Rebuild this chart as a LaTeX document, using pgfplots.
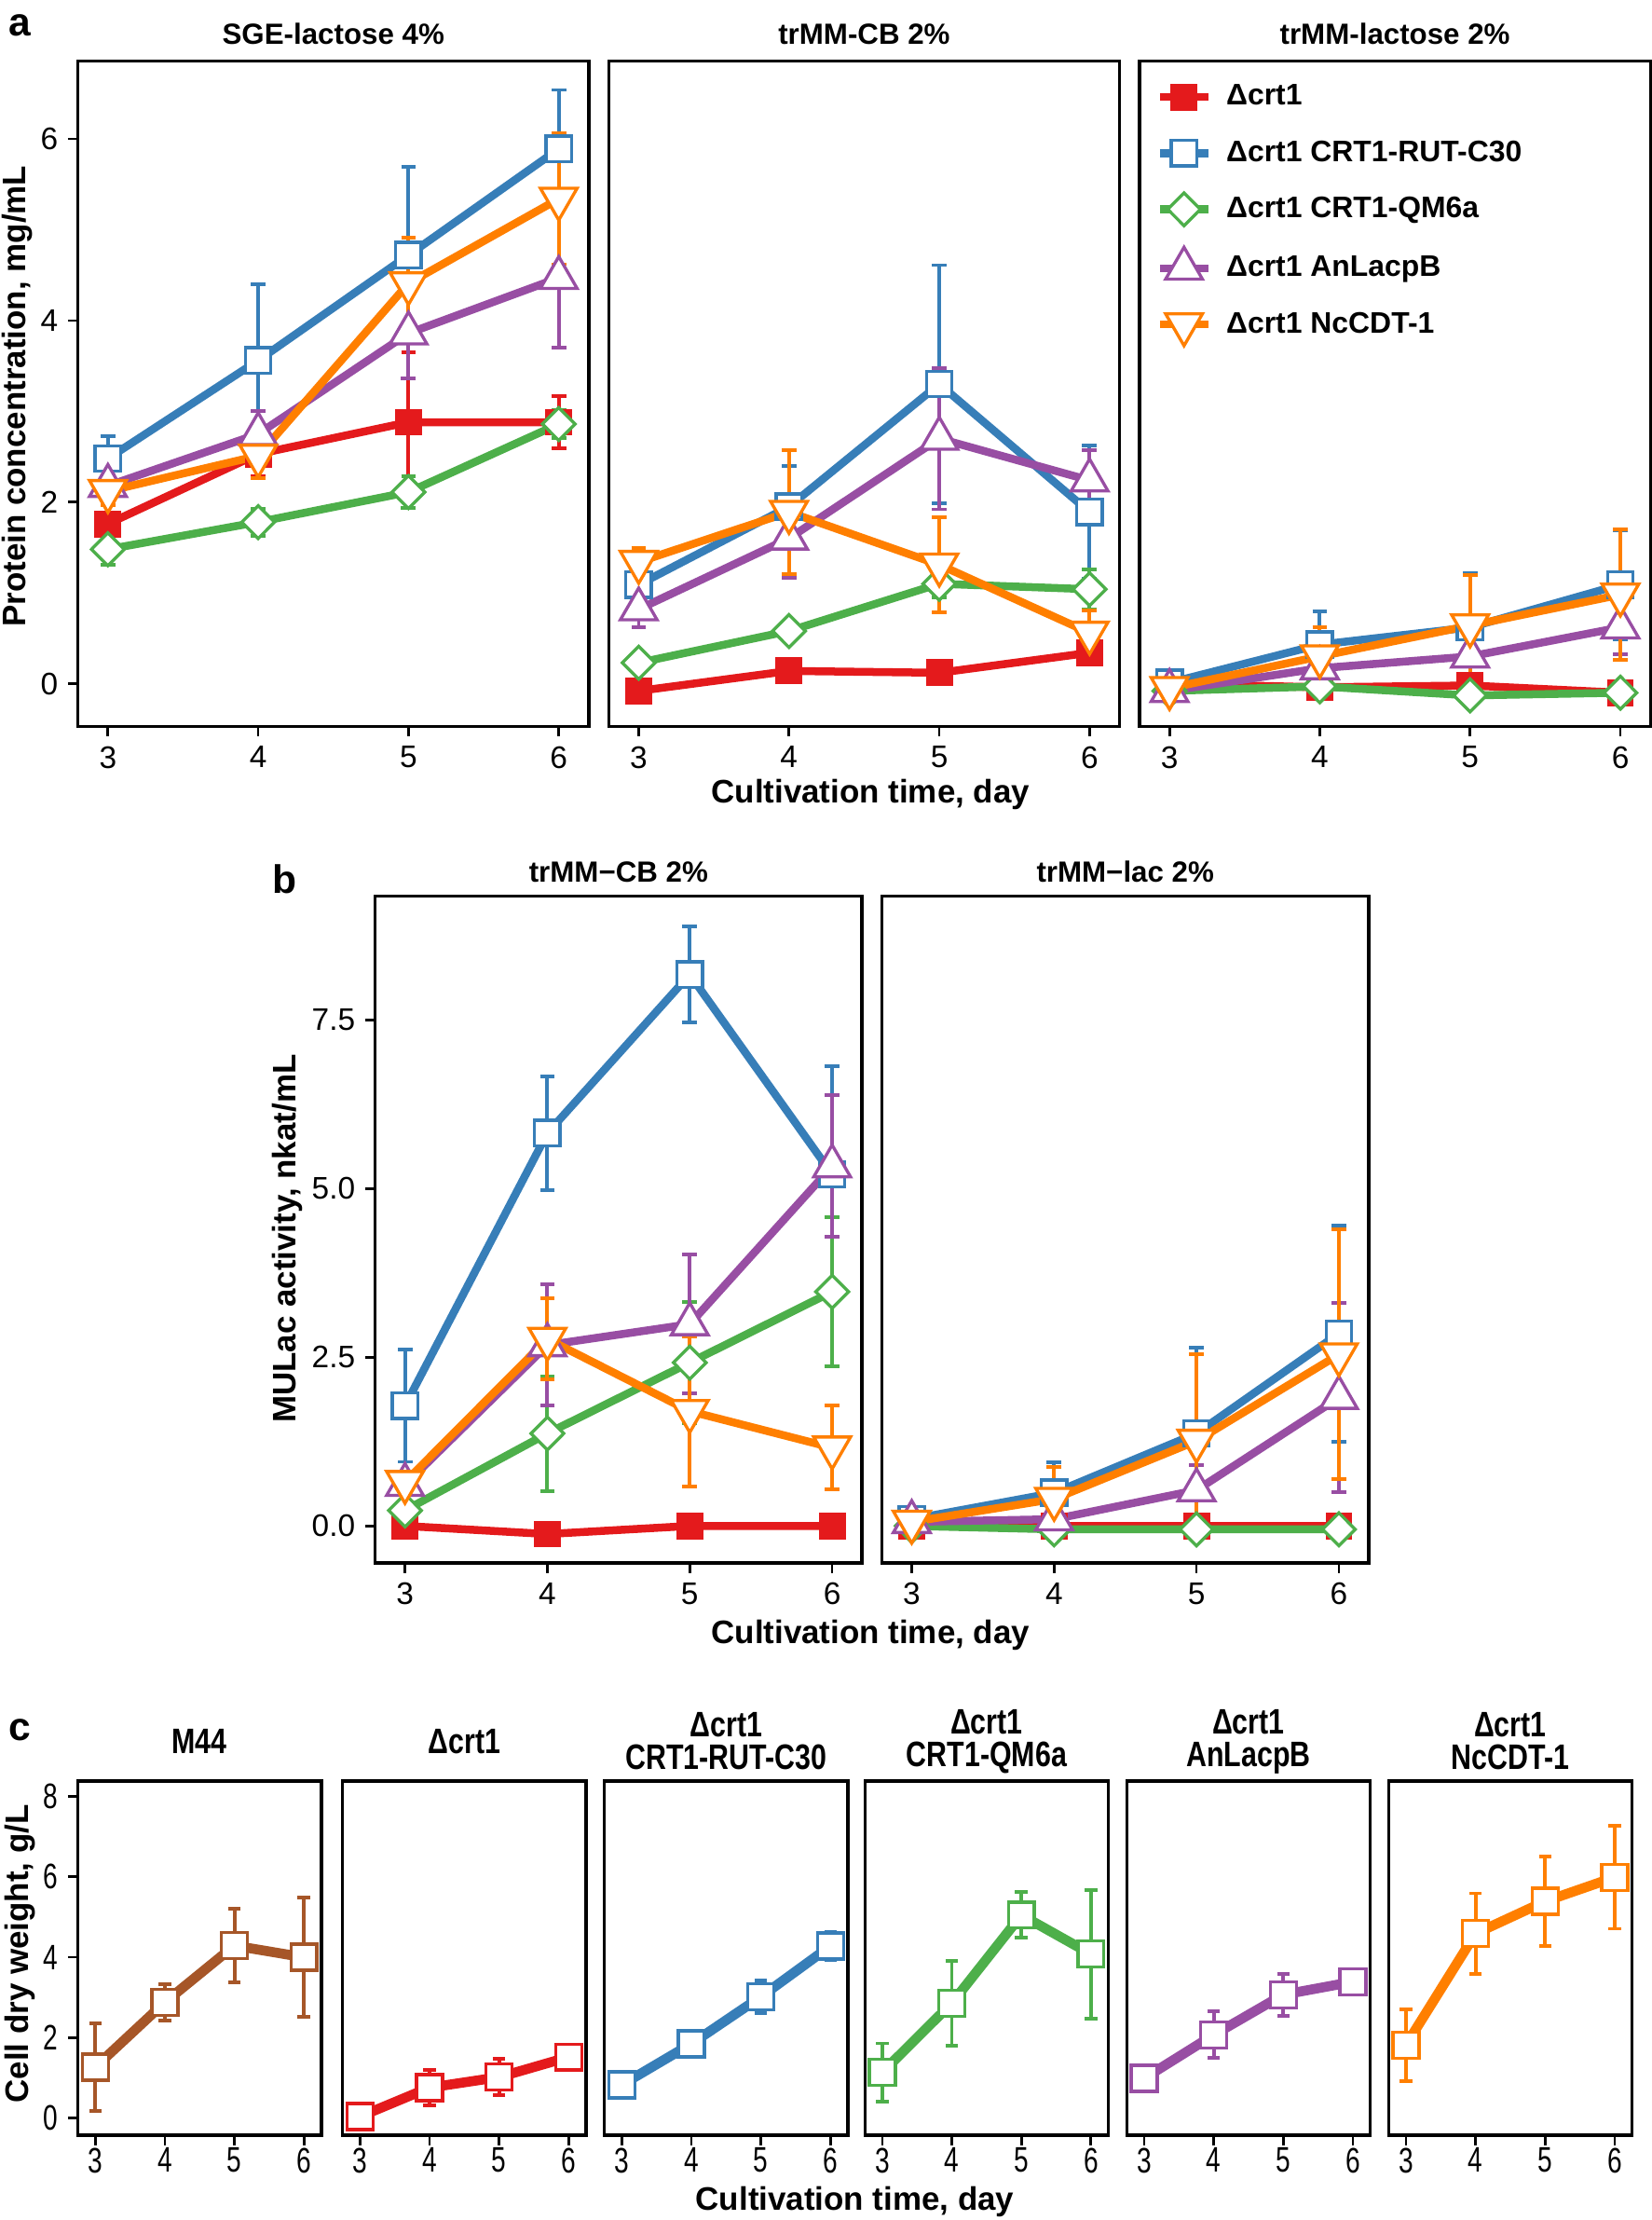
\documentclass[border=0pt]{standalone}
\usepackage{fontspec}
\setmainfont{Liberation Sans}
\usepackage{graphicx}
\usepackage{pgfplots}
\pgfplotsset{compat=1.18}
\usepackage{pgfplotstable}

\definecolor{cR}{HTML}{E41A1C}
\definecolor{cB}{HTML}{377EB8}
\definecolor{cG}{HTML}{4DAF4A}
\definecolor{cP}{HTML}{984EA3}
\definecolor{cO}{HTML}{FF7F00}
\definecolor{cBr}{HTML}{A65628}

% Panel a: protein concentration
\pgfplotstableread{
x R Re B Be G Ge P Pe O Oe
3 1.76 0.12 2.48 0.25 1.48 0.17 2.18 0.12 2.12 0.15
4 2.53 0.25 3.56 0.84 1.78 0.15 2.75 0.25 2.51 0.25
5 2.88 0.77 4.72 0.97 2.11 0.17 3.86 0.50 4.41 0.50
6 2.88 0.29 5.89 0.65 2.86 0.15 4.47 0.77 5.34 0.72
}\tabAa
\pgfplotstableread{
x R Re B Be G Ge P Pe O Oe
3 -0.08 0.04 1.09 0.10 0.23 0.05 0.82 0.20 1.34 0.15
4 0.14 0.05 1.95 0.45 0.58 0.05 1.60 0.43 1.89 0.68
5 0.12 0.05 3.30 1.31 1.10 0.15 2.70 0.78 1.31 0.52
6 0.34 0.05 1.89 0.73 1.04 0.22 2.24 0.33 0.56 0.25
}\tabAb
\pgfplotstableread{
x R Re B Be G Ge P Pe O Oe
3 0.00 0.05 0.01 0.05 -0.08 0.03 -0.08 0.03 -0.05 0.05
4 -0.04 0.05 0.43 0.37 -0.03 0.04 0.17 0.05 0.30 0.32
5 -0.02 0.05 0.62 0.60 -0.13 0.04 0.30 0.10 0.64 0.56
6 -0.10 0.04 1.09 0.60 -0.10 0.04 0.62 0.30 0.98 0.72
}\tabAc
% Panel b: MULac activity
\pgfplotstableread{
x R Re B Be G Ge P Pe O Oe
3 0.00 0.03 1.78 0.83 0.23 0.05 0.61 0.08 0.65 0.08
4 -0.12 0.03 5.82 0.84 1.37 0.85 2.68 0.90 2.77 0.60
5 0.00 0.03 8.17 0.71 2.42 0.90 2.99 1.03 1.70 1.11
6 0.00 0.03 5.21 1.60 3.47 1.10 5.33 1.05 1.16 0.62
}\tabBa
\pgfplotstableread{
x R Re B Be G Ge P Pe O Oe
3 0.00 0.03 0.10 0.05 0.00 0.03 0.06 0.05 0.06 0.05
4 0.00 0.03 0.49 0.45 -0.05 0.03 0.10 0.05 0.40 0.48
5 0.00 0.03 1.37 1.27 -0.05 0.03 0.53 0.37 1.26 1.28
6 0.00 0.03 2.85 1.60 -0.05 0.03 1.90 1.40 2.54 1.85
}\tabBb
% Panel c: cell dry weight
\pgfplotstableread{
x M Me R Re B Be G Ge P Pe O Oe
3 1.27 1.08 0.04 0.05 0.83 0.10 1.14 0.72 0.99 0.15 1.82 0.89
4 2.88 0.45 0.76 0.45 1.85 0.30 2.86 1.05 2.07 0.58 4.59 1.00
5 4.29 0.92 1.02 0.45 3.02 0.40 5.05 0.57 3.07 0.52 5.39 1.11
6 4.00 1.49 1.52 0.08 4.28 0.35 4.08 1.60 3.39 0.08 5.99 1.28
}\tabC

\newcommand{\nar}[1]{\scalebox{0.74}[1]{#1}}
\newcommand{\tnar}[1]{\scalebox{0.8}[1]{#1}}

\pgfplotsset{
 base/.style={scale only axis, xmin=2.8, xmax=6.2, xtick={3,4,5,6}, xticklabels={3,4,5,6},
   axis line style={line width=1.1pt}, tick align=outside, tick pos=left,
   major tick length=3.5pt, tick style={line width=0.9pt, black},
   ticklabel style={font=\fontsize{11}{12}\selectfont},
   title style={font=\bfseries\fontsize{10.3}{12}\selectfont, at={(0.5,1)}, anchor=center},
   /pgf/number format/assume math mode=true},
 errp/.style={forget plot, color=#1, line width=1pt, mark=none,
   error bars/.cd, y dir=both, y explicit,
   error bar style={line width=1.3pt, color=#1},
   error mark options={rotate=90, mark size=2.6pt, line width=1.3pt, color=#1}},
 ln/.style={color=#1, line width=2.8pt, mark size=4.5pt,
   mark options={solid, line width=1.1pt, fill=white}},
 cerr/.style={forget plot, color=#1, line width=1pt, mark=none,
   error bars/.cd, y dir=both, y explicit,
   error bar style={line width=1.3pt, color=#1},
   error mark options={rotate=90, mark size=2.2pt, line width=1.3pt, color=#1}},
 cln/.style={color=#1, line width=3.5pt, mark=square*, mark size=4.6pt,
   mark options={solid, line width=1.1pt, fill=white}},
 aax/.style={base, ymin=-0.47, ymax=6.86, width=180.5pt, height=235pt, ytick=\empty,
   title style={yshift=3.5pt}},
 bax/.style={base, xmin=2.79, xmax=6.21, ymin=-0.55, ymax=9.33, width=172pt, height=235.5pt, ytick=\empty,
   title style={yshift=2.5pt}},
 cax/.style={base, xmin=2.75, xmax=6.25, ymin=-0.42, ymax=8.38, width=86pt, height=125pt, ytick=\empty,
   xticklabels={\nar{3},\nar{4},\nar{5},\nar{6}},
   ticklabel style={font=\fontsize{12.5}{13}\selectfont},
   xticklabel style={yshift=2.5pt},
   title style={font=\bfseries\fontsize{12.5}{11.5}\selectfont, align=center, yshift=8pt}},
}

\newcommand{\fiveseries}[1]{%
 \addplot[errp=cR] table[x=x,y=R,y error=Re]{#1};
 \addplot[errp=cB] table[x=x,y=B,y error=Be]{#1};
 \addplot[errp=cG] table[x=x,y=G,y error=Ge]{#1};
 \addplot[errp=cP] table[x=x,y=P,y error=Pe]{#1};
 \addplot[errp=cO] table[x=x,y=O,y error=Oe]{#1};
 \addplot[ln=cR, mark=square*, mark size=4.2pt, mark options={solid, line width=1.1pt, fill=cR}] table[x=x,y=R]{#1};
 \addplot[ln=cB, mark=square*, mark size=4.5pt] table[x=x,y=B]{#1};
 \addplot[ln=cG, mark=diamond*, mark size=5.8pt, mark options={solid, line width=1.1pt, fill=white, xscale=1.33}] table[x=x,y=G]{#1};
 \addplot[ln=cP, mark=triangle*, mark size=7.5pt] table[x=x,y=P]{#1};
 \addplot[ln=cO, mark=triangle*, mark size=7.5pt, mark options={solid, line width=1.1pt, fill=white, rotate=180}] table[x=x,y=O]{#1};
}

\begin{document}
\begin{tikzpicture}
\path[use as bounding box] (0,0) rectangle (583.5pt,-784pt);

% ---------- Panel a ----------
\begin{axis}[aax, at={(27.5pt,-21.5pt)}, anchor=north west, title={SGE-lactose 4\%},
  ytick={0,2,4,6}, yticklabels={0,2,4,6}]
\fiveseries{\tabAa}
\end{axis}
\begin{axis}[aax, at={(215pt,-21.5pt)}, anchor=north west, title={trMM-CB 2\%}]
\fiveseries{\tabAb}
\end{axis}
\begin{axis}[aax, at={(402.5pt,-21.5pt)}, anchor=north west, title={trMM-lactose 2\%},
  legend style={at={(axis description cs:0.02,0.982)}, anchor=north west, draw=none, fill=none,
    font=\bfseries\fontsize{10.5}{12}\selectfont, row sep=7.0pt, column sep=3pt, inner sep=2pt},
  legend cell align=left]
\fiveseries{\tabAc}
\legend{Δcrt1, Δcrt1 CRT1-RUT-C30, Δcrt1 CRT1-QM6a, Δcrt1 AnLacpB, Δcrt1 NcCDT-1}
\end{axis}
\node[font=\bfseries\fontsize{14}{14}\selectfont] at (7pt,-9pt) {a};
\node[font=\bfseries\fontsize{11.5}{13}\selectfont] at (307.5pt,-280.5pt) {Cultivation time, day};
\node[font=\bfseries\fontsize{11.5}{13}\selectfont, rotate=90] at (6pt,-140pt) {Protein concentration, mg/mL};

% ---------- Panel b ----------
\begin{axis}[bax, at={(132.5pt,-316.5pt)}, anchor=north west, title={trMM−CB 2\%},
  ytick={0,2.5,5,7.5}, yticklabels={0.0,2.5,5.0,7.5}]
\fiveseries{\tabBa}
\end{axis}
\begin{axis}[bax, at={(311.5pt,-316.5pt)}, anchor=north west, title={trMM−lac 2\%}]
\fiveseries{\tabBb}
\end{axis}
\node[font=\bfseries\fontsize{14}{14}\selectfont] at (100.5pt,-310.5pt) {b};
\node[font=\bfseries\fontsize{11.5}{13}\selectfont] at (307.5pt,-577.5pt) {Cultivation time, day};
\node[font=\bfseries\fontsize{11.5}{13}\selectfont, rotate=90] at (101.5pt,-437.5pt) {MULac activity, nkat/mL};

% ---------- Panel c ----------
\begin{axis}[cax, at={(27.5pt,-629pt)}, anchor=north west, title={\tnar{M44}},
  ytick={0,2,4,6,8}, yticklabels={\nar{0},\nar{2},\nar{4},\nar{6},\nar{8}}]
\addplot[cerr=cBr] table[x=x,y=M,y error=Me]{\tabC};
\addplot[cln=cBr] table[x=x,y=M]{\tabC};
\end{axis}
\begin{axis}[cax, at={(121pt,-629pt)}, anchor=north west, title={\tnar{Δcrt1}}]
\addplot[cerr=cR] table[x=x,y=R,y error=Re]{\tabC};
\addplot[cln=cR] table[x=x,y=R]{\tabC};
\end{axis}
\begin{axis}[cax, at={(213.5pt,-629pt)}, anchor=north west, title={\tnar{Δcrt1}\\\tnar{CRT1-RUT-C30}}]
\addplot[cerr=cB] table[x=x,y=B,y error=Be]{\tabC};
\addplot[cln=cB] table[x=x,y=B]{\tabC};
\end{axis}
\begin{axis}[cax, at={(305.5pt,-629pt)}, anchor=north west, title={\tnar{Δcrt1}\\\tnar{CRT1-QM6a}}]
\addplot[cerr=cG] table[x=x,y=G,y error=Ge]{\tabC};
\addplot[cln=cG] table[x=x,y=G]{\tabC};
\end{axis}
\begin{axis}[cax, at={(398pt,-629pt)}, anchor=north west, title={\tnar{Δcrt1}\\\tnar{AnLacpB}}]
\addplot[cerr=cP] table[x=x,y=P,y error=Pe]{\tabC};
\addplot[cln=cP] table[x=x,y=P]{\tabC};
\end{axis}
\begin{axis}[cax, at={(490.5pt,-629pt)}, anchor=north west, title={\tnar{Δcrt1}\\\tnar{NcCDT-1}}]
\addplot[cerr=cO] table[x=x,y=O,y error=Oe]{\tabC};
\addplot[cln=cO] table[x=x,y=O]{\tabC};
\end{axis}
\node[font=\bfseries\fontsize{14}{14}\selectfont] at (7pt,-611pt) {c};
\node[font=\bfseries\fontsize{11.5}{13}\selectfont] at (302pt,-777.5pt) {Cultivation time, day};
\node[font=\bfseries\fontsize{11.5}{13}\selectfont, rotate=90] at (7pt,-690pt) {Cell dry weight, g/L};
\end{tikzpicture}
\end{document}
